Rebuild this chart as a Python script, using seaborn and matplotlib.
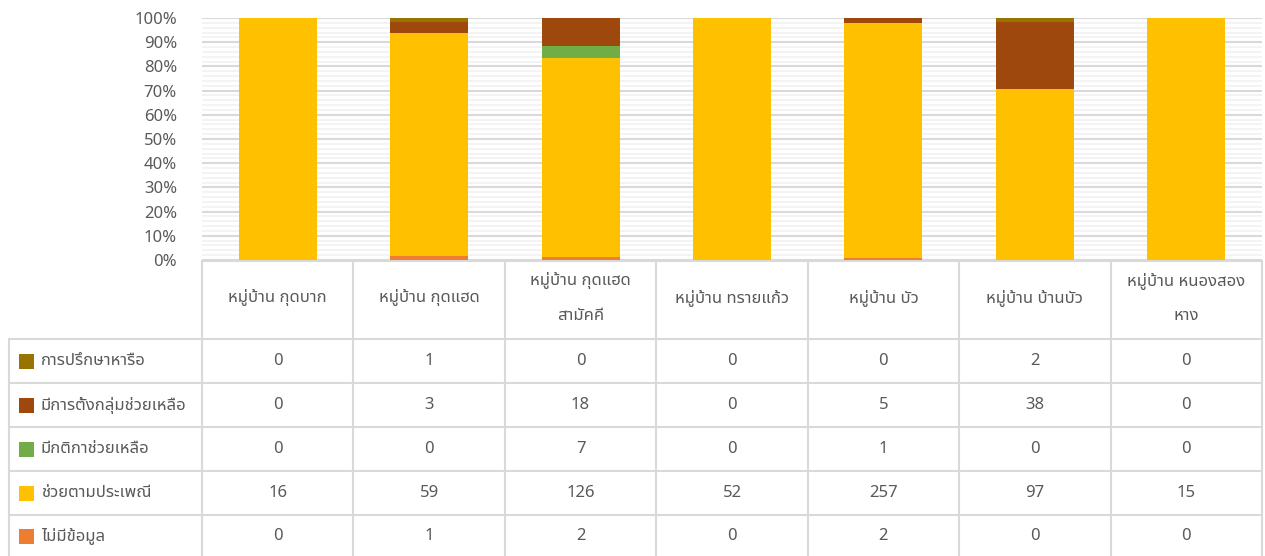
import numpy as np
import pandas as pd
import matplotlib
matplotlib.use("Agg")
import matplotlib.pyplot as plt
import seaborn as sns
from matplotlib import font_manager
from matplotlib.ft2font import FT2Font

villages = ["หมู่บ้าน กุดบาก", "หมู่บ้าน กุดแฮด", "หมู่บ้าน กุดแฮด\nสามัคคี",
            "หมู่บ้าน ทรายแก้ว", "หมู่บ้าน บัว", "หมู่บ้าน บ้านบัว", "หมู่บ้าน หนองสอง\nหาง"]

# table rows, top to bottom (top of the stack first)
series_names = ["การปรึกษาหารือ", "มีการตั้งกลุ่มช่วยเหลือ", "มีกติกาช่วยเหลือ",
                "ช่วยตามประเพณี", "ไม่มีข้อมูล"]
consult = [0, 1, 0, 0, 0, 2, 0]
group_help = [0, 3, 18, 0, 5, 38, 0]
rules_help = [0, 0, 7, 0, 1, 0, 0]
tradition = [16, 59, 126, 52, 257, 97, 15]
no_data = [0, 1, 2, 0, 2, 0, 0]
series_colors = ["#997300", "#9E480E", "#70AD47", "#FFC000", "#ED7D31"]


def find_thai_font():
    names = [f.name for f in font_manager.fontManager.ttflist]
    for pref in ["Noto Sans Thai", "Noto Sans Thai UI", "Tahoma", "Loma", "Garuda"]:
        if pref in names:
            return pref
    for f in font_manager.fontManager.ttflist:
        try:
            if 0x0E01 in FT2Font(f.fname).get_charmap():
                return f.name
        except Exception:
            pass
    return "DejaVu Sans"


sns.set_style("white")
thai_font = find_thai_font()
plt.rcParams["font.family"] = [thai_font, "DejaVu Sans"]

values = {"การปรึกษาหารือ": consult, "มีการตั้งกลุ่มช่วยเหลือ": group_help,
          "มีกติกาช่วยเหลือ": rules_help, "ช่วยตามประเพณี": tradition, "ไม่มีข้อมูล": no_data}
df = pd.DataFrame(values, index=villages)
pct = df.div(df.sum(axis=1), axis=0) * 100

W, H = 1265, 556
fig = plt.figure(figsize=(W / 100, H / 100), dpi=100)
ax = fig.add_axes([202 / W, (H - 260) / H, 1060 / W, 242 / H])

text_color = "#595959"
grid_major = "#d9d9d9"
grid_minor = "#f2f2f2"

# stacked bars, bottom series first
bottom = np.zeros(len(villages))
for name, color in zip(series_names[::-1], series_colors[::-1]):
    sns.barplot(x=list(range(len(villages))), y=pct[name].values, bottom=bottom,
                color=color, width=0.515, ax=ax, linewidth=0, saturation=1)
    bottom = bottom + pct[name].values

ax.set_xlim(-0.5, len(villages) - 0.5)
ax.set_ylim(0, 100)
ax.set_yticks(np.arange(0, 101, 10))
ax.set_yticklabels([f"{v}%" for v in range(0, 101, 10)], fontsize=12, color=text_color)
ax.set_yticks(np.arange(0, 101, 2), minor=True)
ax.grid(axis="y", which="minor", color=grid_minor, lw=1.3)
ax.grid(axis="y", which="major", color=grid_major, lw=1.5)
ax.set_axisbelow(True)
ax.set_xticks([])
ax.set_xlabel("")
ax.tick_params(axis="y", which="both", length=0, pad=18)
for s in ax.spines.values():
    s.set_visible(False)

# data table below the plot, drawn in pixel coordinates
tax = fig.add_axes([0, 0, 1, (H - 260) / H])
tax.set_xlim(0, W)
tax.set_ylim(H, 260)
tax.axis("off")

col_edges = [202 + 151.43 * i for i in range(len(villages) + 1)]
row_edges = [339, 383, 427, 471, 515, 559]
lc = "#d9d9d9"
lw = 1.5

for x in col_edges:
    tax.plot([x, x], [260, 559], color=lc, lw=lw, solid_capstyle="butt")
tax.plot([9, 9], [339, 559], color=lc, lw=lw)
tax.plot([202, col_edges[-1]], [261, 261], color=lc, lw=lw)
for y in row_edges[:-1]:
    tax.plot([9, col_edges[-1]], [y, y], color=lc, lw=lw)

for i, v in enumerate(villages):
    cx = (col_edges[i] + col_edges[i + 1]) / 2
    tax.text(cx, 298, v, ha="center", va="center", fontsize=12, color=text_color,
             linespacing=2.6)

for r, (name, color) in enumerate(zip(series_names, series_colors)):
    cy = (row_edges[r] + min(row_edges[r + 1], 556)) / 2
    tax.add_patch(plt.Rectangle((19, cy - 7), 15, 15, color=color, lw=0))
    tax.text(41, cy, name, ha="left", va="center", fontsize=12, color=text_color)
    for i, val in enumerate(df[name].values):
        cx = (col_edges[i] + col_edges[i + 1]) / 2
        tax.text(cx, cy, str(val), ha="center", va="center", fontsize=12, color=text_color)

fig.savefig("out.png", dpi=100)
